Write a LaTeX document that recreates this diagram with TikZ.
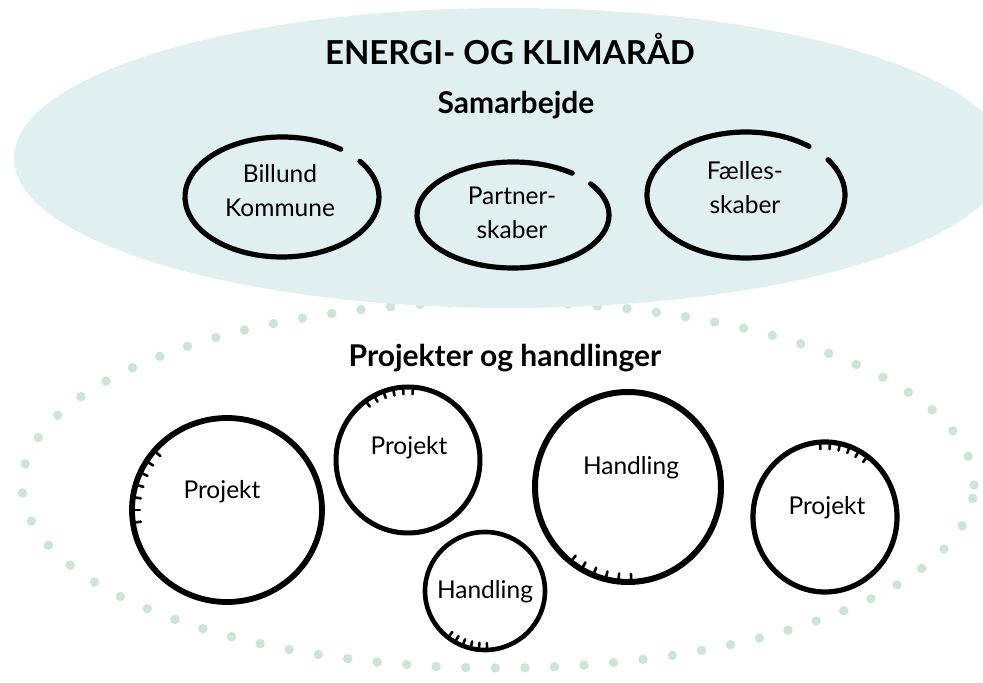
\documentclass[tikz,border=0pt]{standalone}
\usepackage{fontspec}
\setmainfont{Lato}
\definecolor{bluefill}{HTML}{E0F0F0}
\definecolor{dotcol}{HTML}{CDE5D8}
\begin{document}
\begin{tikzpicture}[x=1pt,y=1pt,
  ring/.style={line width=5.2pt, line cap=round, draw=black},
  tickmark/.style={line width=2.6pt, line cap=round, draw=black},
  lbl/.style={font=\fontsize{24.5}{34}\selectfont, align=center, inner sep=0pt, text=black},
  ttl/.style={font=\bfseries\fontsize{33}{38}\selectfont, inner sep=0pt},
  sub/.style={font=\bfseries\fontsize{30}{34}\selectfont, inner sep=0pt}]
\useasboundingbox (0,0) rectangle (983,683);
% dotted outer ellipse
\draw[dotcol, line width=9.5pt, line cap=round, dash pattern=on 0pt off 29.6pt]
  (498,198) ellipse [x radius=476, y radius=183];
% blue ellipse
\fill[bluefill] (510,525) ellipse [x radius=496, y radius=150];
% titles
\node[ttl] (title) at (510,634) {ENERGI- OG KLIMARÅD};
\node[sub] (samarb) at (516,578) {Samarbejde};
\node[sub] (proj) at (505,325) {Projekter og handlinger};
% top rings with gap
\coordinate (c1) at (282,486);
\coordinate (c2) at (513,468);
\coordinate (c3) at (746,488);
\draw[ring] (c1) ++(52.8:97 and 60) arc [start angle=52.8, end angle=396.5, x radius=97, y radius=60];
\draw[ring] (c2) ++(52:96 and 53) arc [start angle=52, end angle=396, x radius=96, y radius=53];
\draw[ring] (c3) ++(50.5:99 and 63) arc [start angle=50.5, end angle=394, x radius=99, y radius=63];
\node[lbl] (billund) at (280,492) {Billund\\Kommune};
\node[lbl] (partner) at (512,470) {Partner-\\skaber};
\node[lbl] (faelles) at (745,495) {Fælles-\\skaber};
% bottom rings
\coordinate (a) at (227,173);
\coordinate (b) at (408,223);
\coordinate (cc) at (485,92);
\coordinate (d) at (628,196);
\coordinate (e) at (825,166);
\draw[ring, line width=5.8pt] (a) ellipse [x radius=95, y radius=92];
\draw[ring, line width=5pt] (b) ellipse [x radius=72, y radius=73];
\draw[ring, line width=4.6pt] (cc) ellipse [x radius=60, y radius=59];
\draw[ring, line width=6pt] (d) ellipse [x radius=93, y radius=95];
\draw[ring, line width=5.2pt] (e) ellipse [x radius=72, y radius=75];
% tick marks
\foreach \t in {140,148,...,188} \draw[tickmark] (a) ++(\t:95 and 92) -- ++(\t:-8 and -8);
\foreach \t in {86,94,...,128} \draw[tickmark] (b) ++(\t:72 and 73) -- ++(\t:-7 and -7);
\foreach \t in {232,240,...,276} \draw[tickmark] (cc) ++(\t:60 and 59) -- ++(\t:-7 and -7);
\foreach \t in {232,240,...,276} \draw[tickmark] (d) ++(\t:93 and 95) -- ++(\t:-8 and -8);
\foreach \t in {54,62,...,96} \draw[tickmark] (e) ++(\t:72 and 75) -- ++(\t:-7 and -7);
\node[lbl] (pa) at (222,191) {Projekt};
\node[lbl] (pb) at (409,235) {Projekt};
\node[lbl] (hc) at (485,91) {Handling};
\node[lbl] (hd) at (631,215) {Handling};
\node[lbl] (pe) at (827,175) {Projekt};
\end{tikzpicture}
\end{document}
